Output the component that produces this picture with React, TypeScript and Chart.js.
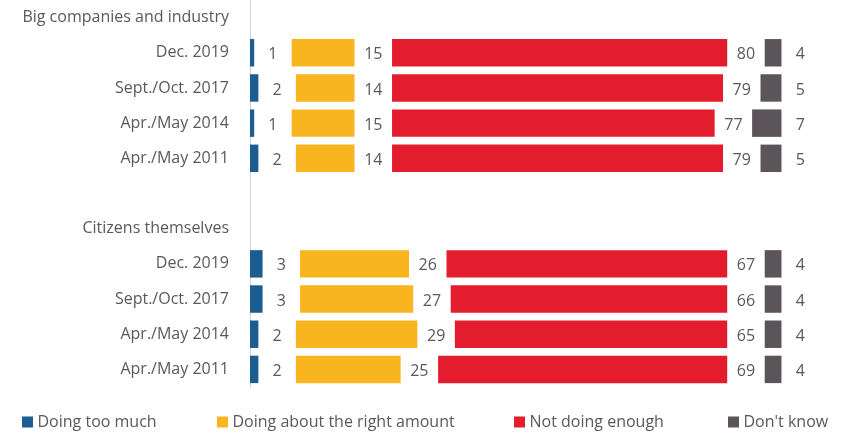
import React, { useEffect, useRef } from "react";
import { Chart, registerables } from "chart.js";

Chart.register(...registerables);

// ---- data ----
const groupTitles = ["Big companies and industry", "Citizens themselves"];
const periods = ["Dec. 2019", "Sept./Oct. 2017", "Apr./May 2014", "Apr./May 2011"];
const seriesNames = ["Doing too much", "Doing about the right amount", "Not doing enough", "Don't know"];
const doingTooMuch = [1, 2, 1, 2, 3, 3, 2, 2];
const aboutRight = [15, 14, 15, 14, 26, 27, 29, 25];
const notEnough = [80, 79, 77, 79, 67, 66, 65, 69];
const dontKnow = [4, 5, 7, 5, 4, 4, 4, 4];

// ---- styling / layout ----
const seriesColors = ["#1c5d91", "#f9b51f", "#e31d2d", "#5b5459"];
const GAP = 8.95; // empty space between segments, in axis units
const X_MAX = 144.4;
const FONT = "'Open Sans', 'Noto Sans', sans-serif";
const TEXT = "#595959";
const legendX = [22, 217, 514, 728];

// category list: group titles as rows, a blank row between groups
const labels: string[] = [];
const rowIndex: (number | null)[] = [];
groupTitles.forEach((g, gi) => {
  if (gi > 0) {
    labels.push("");
    rowIndex.push(null);
  }
  labels.push(g);
  rowIndex.push(null);
  periods.forEach((p, pi) => {
    labels.push(p);
    rowIndex.push(gi * periods.length + pi);
  });
});
const expand = (arr: number[]) => rowIndex.map((r) => (r === null ? null : arr[r]));
const spacer = rowIndex.map((r) => (r === null ? null : GAP));

const valueLabels = {
  id: "valueLabels",
  afterDatasetsDraw(chart: any) {
    const ctx = chart.ctx;
    const x = chart.scales.x;
    const half = (x.getPixelForValue(GAP) - x.getPixelForValue(0)) / 2;
    ctx.save();
    ctx.font = `16px ${FONT}`;
    ctx.fillStyle = TEXT;
    ctx.textAlign = "center";
    ctx.textBaseline = "middle";
    chart.data.datasets.forEach((ds: any, di: number) => {
      if (ds.isSpacer) return;
      chart.getDatasetMeta(di).data.forEach((bar: any, j: number) => {
        const v = ds.data[j];
        if (v == null) return;
        ctx.fillText(String(v), bar.x + half, bar.y + 2);
      });
    });
    ctx.restore();
  },
};

const customLegend = {
  id: "customLegend",
  afterDraw(chart: any) {
    const ctx = chart.ctx;
    const y = chart.height - 13;
    ctx.save();
    ctx.font = `16px ${FONT}`;
    ctx.textAlign = "left";
    ctx.textBaseline = "middle";
    let k = 0;
    chart.data.datasets.forEach((ds: any) => {
      if (ds.isSpacer) return;
      const x0 = legendX[k++];
      ctx.fillStyle = ds.backgroundColor;
      ctx.fillRect(x0, y - 5.5, 11, 11);
      ctx.fillStyle = TEXT;
      ctx.fillText(ds.label, x0 + 15.5, y);
    });
    ctx.restore();
  },
};

export default function App() {
  const ref = useRef<HTMLCanvasElement | null>(null);

  useEffect(() => {
    if (!ref.current) return;
    const series = [doingTooMuch, aboutRight, notEnough, dontKnow];
    const datasets: any[] = [];
    series.forEach((s, i) => {
      if (i > 0) {
        datasets.push({
          label: "gap",
          data: spacer,
          backgroundColor: "rgba(0,0,0,0)",
          isSpacer: true,
        });
      }
      datasets.push({
        label: seriesNames[i],
        data: expand(s),
        backgroundColor: seriesColors[i],
      });
    });

    const chart = new Chart(ref.current, {
      type: "bar",
      data: { labels, datasets },
      options: {
        indexAxis: "y",
        responsive: true,
        maintainAspectRatio: false,
        animation: false,
        layout: { padding: { top: 0, right: 0, bottom: 48, left: 0 } },
        datasets: { bar: { categoryPercentage: 1, barPercentage: 0.78, borderWidth: 0 } },
        plugins: {
          legend: { display: false },
          tooltip: { enabled: false },
        },
        scales: {
          x: { stacked: true, display: false, min: 0, max: X_MAX },
          y: {
            stacked: true,
            grid: { display: false, drawTicks: false },
            border: { display: true, color: "#d2d2d2", width: 1 },
            ticks: {
              color: TEXT,
              font: { family: FONT, size: 16 },
              padding: 21,
              autoSkip: false,
            },
            afterFit(scale: any) {
              scale.width = 250;
              scale.paddingTop = 0;
              scale.paddingBottom = 0;
            },
          },
        },
      } as any,
      plugins: [valueLabels, customLegend],
    });
    return () => chart.destroy();
  }, []);

  return (
    <div
      style={{
        position: "fixed",
        left: 0,
        top: 0,
        width: 855,
        height: 435,
        background: "#ffffff",
      }}
    >
      <canvas ref={ref} />
    </div>
  );
}
